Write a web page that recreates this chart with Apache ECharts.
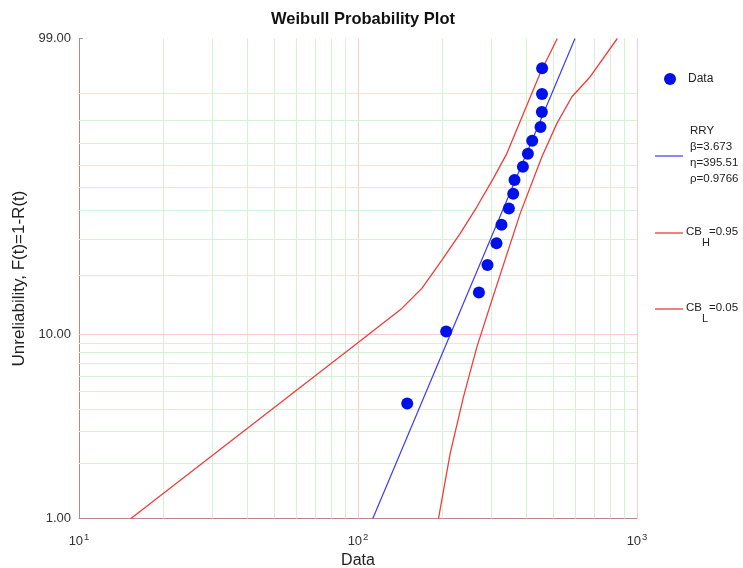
<!DOCTYPE html>
<html>
<head>
<meta charset="utf-8">
<script src="https://cdn.jsdelivr.net/npm/echarts@6/dist/echarts.min.js"></script>
<style>html,body{margin:0;padding:0;background:#fff;}#chart{width:743px;height:568px;}</style>
</head>
<body>
<div id="chart"></div>
<script>
// ---- data ----
const failureTimes = [150.1, 207.0, 271.3, 291.2, 313.6, 326.8, 347.4, 360.0, 363.9, 390.0, 406.4, 421.1, 451.0, 456.0, 456.5, 457.0];
const unreliability = [4.27, 10.37, 16.46, 22.56, 28.66, 34.76, 40.85, 46.95, 53.05, 59.15, 65.24, 71.34, 77.44, 83.54, 89.63, 95.73];

const fitT = [113.0, 599.4];
const fitF = [1, 99];

const upperT = [15.35, 99.1, 143.6, 169.4, 199.8, 232.5, 266.8, 306.0, 341.8, 392.0, 449.8, 518];
const upperF = [1.0, 8.96, 13.66, 17.27, 23.82, 31.80, 41.57, 53.94, 65.45, 82.99, 94.78, 99.0];

const lowerT = [194.3, 214.0, 238.8, 266.8, 302.0, 381.4, 456.2, 516.4, 584.5, 679.7, 850];
const lowerF = [1.0, 2.28, 4.64, 8.60, 15.06, 38.98, 63.86, 78.96, 88.80, 94.08, 99.0];

const yTickLabels = [1, 10, 99];
const yMinorGrid = [2, 3, 4, 5, 6, 7, 8, 9, 20, 30, 40, 50, 60, 70, 80, 90];
const yMajorGrid = [10];
const xMinorGrid = [20, 30, 40, 50, 60, 70, 80, 90, 200, 300, 400, 500, 600, 700, 800, 900];
const xMajorGrid = [100, 1000];

// Weibull probability scale
const wb = F => Math.log(-Math.log(1 - F / 100));
const wbInv = h => (1 - Math.exp(-Math.exp(h))) * 100;
const yMin = wb(1), yMax = wb(99);

const pairs = (ts, fs) => ts.map((t, i) => [t, wb(fs[i])]);

const GREEN = '#d3f3d3', PINK = '#f7cccc', AXIS = '#b88888';
const gridMarks = [];
xMinorGrid.forEach(v => gridMarks.push({xAxis: v, lineStyle: {color: GREEN, width: 1, type: 'solid'}}));
xMajorGrid.forEach(v => gridMarks.push({xAxis: v, lineStyle: {color: PINK, width: 1, type: 'solid'}}));
yMinorGrid.forEach(v => gridMarks.push({yAxis: wb(v), lineStyle: {color: GREEN, width: 1, type: 'solid'}}));
yMajorGrid.forEach(v => gridMarks.push({yAxis: wb(v), lineStyle: {color: PINK, width: 1, type: 'solid'}}));

const chart = echarts.init(document.getElementById('chart'), null, {renderer: 'canvas'});
const FONT = 'Liberation Sans, Arial, sans-serif';
const LEG = {fontSize: 11.5, fill: '#222', verticalAlign: 'middle', fontFamily: FONT};
const option = {
  animation: false,
  backgroundColor: '#fff',
  textStyle: {fontFamily: FONT},
  title: {
    text: 'Weibull Probability Plot',
    left: 358, top: 6, textAlign: 'center',
    textStyle: {fontSize: 16.5, fontWeight: 'bold', color: '#111', fontFamily: FONT}
  },
  grid: {left: 79, top: 38.5, width: 558, height: 480, containLabel: false, outerBoundsMode: 'none'},
  xAxis: {
    type: 'log', logBase: 10, min: 10, max: 1000,
    name: 'Data', nameLocation: 'middle', nameGap: 26,
    nameTextStyle: {fontSize: 16, color: '#222', fontFamily: FONT},
    axisLine: {show: true, onZero: false, lineStyle: {color: AXIS, width: 1}},
    axisTick: {show: false},
    splitLine: {show: false},
    axisLabel: {
      margin: 14, color: '#333',
      formatter: v => '{b|10}{s|' + Math.round(Math.log10(v)) + '}',
      rich: {
        b: {fontSize: 13, color: '#333', fontFamily: FONT},
        s: {fontSize: 9.5, color: '#333', fontFamily: FONT, padding: [0, 0, 8, 1]}
      }
    }
  },
  yAxis: {
    type: 'value', min: yMin, max: yMax,
    name: 'Unreliability, F(t)=1-R(t)', nameLocation: 'middle', nameGap: 36, nameRotate: 90,
    nameTextStyle: {fontSize: 17, color: '#222', fontFamily: FONT},
    axisLine: {show: true, onZero: false, lineStyle: {color: AXIS, width: 1}},
    axisTick: {show: true, inside: true, length: 4, customValues: yTickLabels.map(wb), lineStyle: {color: '#999'}},
    splitLine: {show: false},
    axisLabel: {
      margin: 8, fontSize: 13, color: '#333', fontFamily: FONT,
      customValues: yTickLabels.map(wb),
      formatter: v => wbInv(v).toFixed(2)
    }
  },
  series: [
    {
      type: 'line', data: [], z: 1, silent: true,
      markLine: {silent: true, z: 1, symbol: ['none', 'none'], label: {show: false}, animation: false, data: gridMarks}
    },
    {
      name: 'CBH', type: 'line', data: pairs(upperT, upperF), showSymbol: false, symbol: 'none', z: 3,
      lineStyle: {color: '#f03c3c', width: 1.3}
    },
    {
      name: 'CBL', type: 'line', data: pairs(lowerT, lowerF), showSymbol: false, symbol: 'none', z: 3,
      lineStyle: {color: '#f03c3c', width: 1.3}
    },
    {
      name: 'RRY', type: 'line', data: pairs(fitT, fitF), showSymbol: false, symbol: 'none', z: 4,
      lineStyle: {color: '#3c3cf5', width: 1.2}
    },
    {
      name: 'Data', type: 'scatter', data: pairs(failureTimes, unreliability), symbol: 'circle', symbolSize: 12, z: 5,
      itemStyle: {color: '#0010e8', opacity: 1}
    }
  ],
  graphic: [
    {type: 'circle', shape: {cx: 670, cy: 79, r: 6}, style: {fill: '#0010e8'}},
    {type: 'text', x: 688, y: 79, style: Object.assign({}, LEG, {text: 'Data', fontSize: 12})},
    {type: 'line', shape: {x1: 655, y1: 156, x2: 683, y2: 156}, style: {stroke: '#3c3cf5', lineWidth: 1.2}},
    {type: 'text', x: 690, y: 131, style: Object.assign({}, LEG, {text: 'RRY'})},
    {type: 'text', x: 690, y: 147, style: Object.assign({}, LEG, {text: 'β=3.673'})},
    {type: 'text', x: 690, y: 163, style: Object.assign({}, LEG, {text: 'η=395.51'})},
    {type: 'text', x: 690, y: 179, style: Object.assign({}, LEG, {text: 'ρ=0.9766'})},
    {type: 'line', shape: {x1: 655, y1: 233, x2: 683, y2: 233}, style: {stroke: '#f03c3c', lineWidth: 1.3}},
    {type: 'text', x: 686, y: 232, style: Object.assign({}, LEG, {text: 'CB'})},
    {type: 'text', x: 702, y: 243, style: Object.assign({}, LEG, {text: 'H', fontSize: 11})},
    {type: 'text', x: 709, y: 232, style: Object.assign({}, LEG, {text: '=0.95'})},
    {type: 'line', shape: {x1: 655, y1: 309, x2: 683, y2: 309}, style: {stroke: '#f03c3c', lineWidth: 1.3}},
    {type: 'text', x: 686, y: 308, style: Object.assign({}, LEG, {text: 'CB'})},
    {type: 'text', x: 702, y: 319, style: Object.assign({}, LEG, {text: 'L', fontSize: 11})},
    {type: 'text', x: 709, y: 308, style: Object.assign({}, LEG, {text: '=0.05'})}
  ]
};
chart.setOption(option);
</script>
</body>
</html>
